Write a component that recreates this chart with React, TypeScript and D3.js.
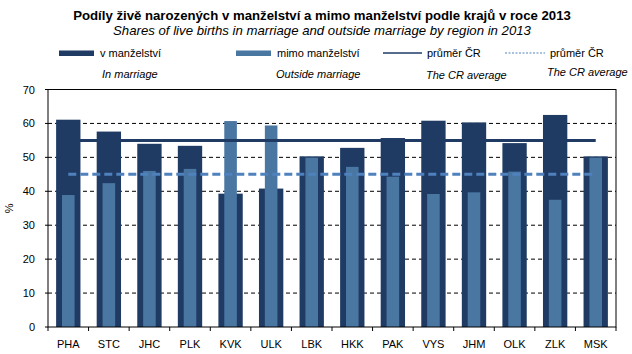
import React from "react";
import * as d3 from "d3";

const categories = ["PHA","STC","JHC","PLK","KVK","ULK","LBK","HKK","PAK","VYS","JHM","OLK","ZLK","MSK"];
const inMarriage = [61.1,57.6,54.0,53.4,39.3,40.8,50.3,52.8,55.7,60.8,60.3,54.2,62.5,50.3];
const outsideMarriage = [38.9,42.4,46.0,46.6,60.7,59.4,49.9,47.2,44.3,39.2,39.7,45.8,37.5,49.9];
const avgIn = 55.0;
const avgOut = 45.0;
const yTicks = [0,10,20,30,40,50,60,70];

const W = 632, H = 354;
const m = { left: 48, right: 16, top: 89.5, bottom: 27 };
const DARK = "#1F3B64";
const LIGHT = "#4A76A2";
const DASH = "#4F81BD";
const FONT = "Liberation Sans, Arial, sans-serif";

export default function App() {
  const x = d3.scaleBand().domain(categories).range([m.left, W - m.right]).padding(0);
  const y = d3.scaleLinear().domain([0, 70]).range([H - m.bottom, m.top]);
  const bw = x.bandwidth();
  const darkW = bw * 0.6;
  const lightW = bw * 0.31;
  const x0 = (x(categories[0]) as number) + bw / 2;
  const x1 = (x(categories[categories.length - 1]) as number) + bw / 2;
  return (
    <svg width={W} height={H} style={{ position: "absolute", left: 0, top: 0, background: "#fff" }} fontFamily={FONT}>
      <text x={322} y={19.5} textAnchor="middle" fontWeight="bold" fontSize={13.2}>Podíly živě narozených v manželství a mimo manželství podle krajů v roce 2013</text>
      <text x={322} y={34.5} textAnchor="middle" fontStyle="italic" fontSize={13.2}>Shares of live births in marriage and outside marriage by region in 2013</text>

      {/* legend */}
      <rect x={59} y={50.5} width={35} height={5.5} fill={DARK} />
      <text x={100} y={57} fontSize={11}>v manželství</text>
      <text x={102} y={78} fontSize={11} fontStyle="italic">In marriage</text>
      <rect x={236} y={50.5} width={35} height={5.5} fill={LIGHT} />
      <text x={277} y={57} fontSize={11}>mimo manželství</text>
      <text x={276} y={78} fontSize={11} fontStyle="italic">Outside marriage</text>
      <line x1={383} x2={422} y1={53} y2={53} stroke={DARK} strokeWidth={1.5} />
      <text x={427} y={57} fontSize={11}>průměr ČR</text>
      <text x={426} y={79} fontSize={11} fontStyle="italic">The CR average</text>
      <line x1={505} x2={545} y1={53} y2={53} stroke={DASH} strokeWidth={1} strokeDasharray="2,1.5" />
      <text x={550} y={57} fontSize={11}>průměr ČR</text>
      <text x={547} y={76} fontSize={11} fontStyle="italic">The CR average</text>

      {/* grid */}
      {yTicks.filter(t => t > 0 && t < 70).map(t => (
        <line key={t} x1={m.left} x2={W - m.right} y1={y(t)} y2={y(t)} stroke="#000" strokeWidth={1} strokeDasharray="4,3" />
      ))}

      {/* bars */}
      {categories.map((c, i) => {
        const cx = (x(c) as number) + bw / 2;
        return (
          <g key={c}>
            <rect x={cx - darkW / 2} y={y(inMarriage[i])} width={darkW} height={y(0) - y(inMarriage[i])} fill={DARK} />
            <rect x={cx - lightW / 2} y={y(outsideMarriage[i])} width={lightW} height={y(0) - y(outsideMarriage[i])} fill={LIGHT} />
          </g>
        );
      })}

      {/* averages */}
      <line x1={x0} x2={x1} y1={y(avgIn)} y2={y(avgIn)} stroke={DARK} strokeWidth={3} />
      <line x1={x0} x2={x1} y1={y(avgOut)} y2={y(avgOut)} stroke={DASH} strokeWidth={3} strokeDasharray="8,4" />

      {/* frame */}
      <rect x={m.left} y={m.top} width={W - m.right - m.left} height={y(0) - m.top} fill="none" stroke="#000" strokeWidth={1} />

      {/* y axis */}
      {yTicks.map(t => (
        <g key={t}>
          <line x1={m.left - 3} x2={m.left} y1={y(t)} y2={y(t)} stroke="#000" />
          <text x={m.left - 13} y={y(t) + 4} textAnchor="end" fontSize={11}>{t}</text>
        </g>
      ))}
      <text transform={`translate(13,${(m.top + y(0)) / 2}) rotate(-90)`} textAnchor="middle" fontSize={11}>%</text>

      {/* x axis */}
      {categories.map(c => (
        <line key={"t" + c} x1={x(c) as number} x2={x(c) as number} y1={y(0)} y2={y(0) + 4} stroke="#000" />
      ))}
      <line x1={W - m.right} x2={W - m.right} y1={y(0)} y2={y(0) + 4} stroke="#000" />
      {categories.map(c => (
        <text key={"l" + c} x={(x(c) as number) + bw / 2} y={y(0) + 21} textAnchor="middle" fontSize={11}>{c}</text>
      ))}
    </svg>
  );
}
